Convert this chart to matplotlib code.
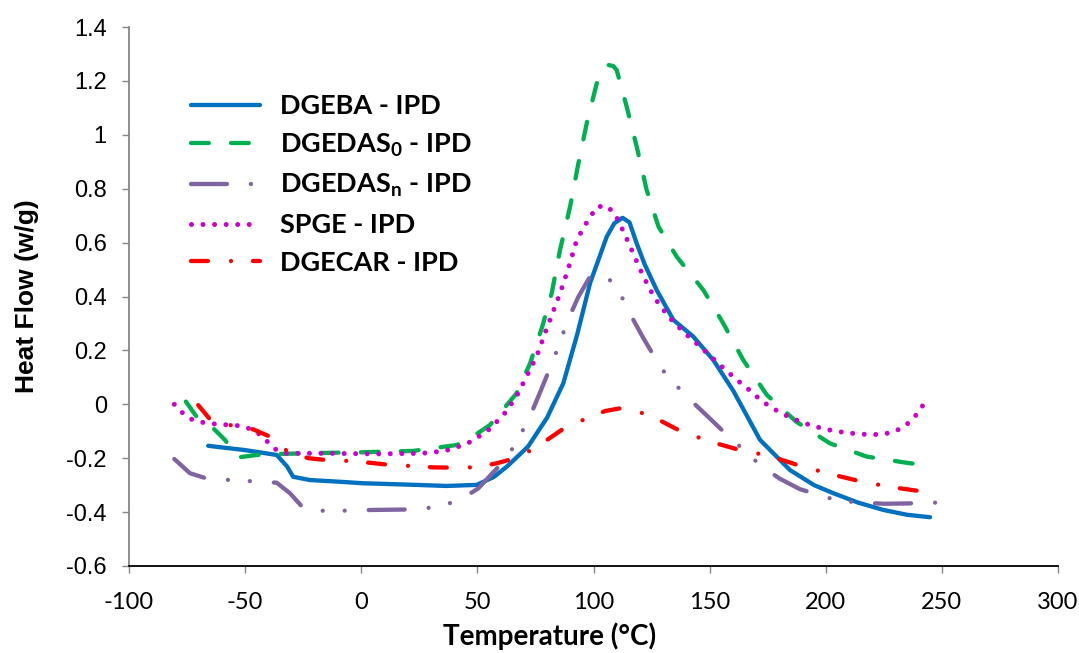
import matplotlib
matplotlib.use("Agg")
import matplotlib.pyplot as plt

# ---------------- data ----------------
dgeba_T = [-65.9, -50, -36.4, -32, -29.3, -22.1, -10, 0.8, 20, 36.8, 49.7, 57, 62.6, 71.8, 80, 87,
           93, 98.5, 105.7, 109, 112.5, 115.5, 118.6, 122, 127.2, 134.4, 143, 151.6, 160.2, 171.7,
           184.6, 195, 203.3, 214, 224.8, 235, 244.9]
dgeba_v = [-0.154, -0.17, -0.188, -0.23, -0.269, -0.281, -0.287, -0.293, -0.298, -0.303, -0.299,
           -0.27, -0.232, -0.157, -0.05, 0.078, 0.26, 0.449, 0.622, 0.672, 0.692, 0.675, 0.597, 0.52,
           0.424, 0.313, 0.251, 0.164, 0.05, -0.132, -0.244, -0.30, -0.33, -0.365, -0.392, -0.41, -0.419]

dgedas0_T = [-75.5, -70.9, -63.7, -58.7, -52.9, -45, -35, -13.5, 0, 22.4, 41.1, 48, 55.4, 61, 66.9,
             72.7, 78, 82, 85.6, 89.9, 93.5, 97.1, 101.4, 104, 106.4, 108.5, 110, 114.3, 118.6,
             122.9, 128, 135.8, 147.3, 155.9, 164.5, 174.6, 187.4, 201.8, 217.6, 234.8, 245]
dgedas0_v = [0.01, -0.046, -0.089, -0.132, -0.197, -0.188, -0.184, -0.18, -0.178, -0.173, -0.151,
             -0.12, -0.077, -0.02, 0.041, 0.152, 0.29, 0.412, 0.573, 0.733, 0.894, 1.043, 1.191,
             1.24, 1.259, 1.255, 1.24, 1.104, 0.956, 0.795, 0.659, 0.548, 0.424, 0.30, 0.164, 0.035,
             -0.065, -0.145, -0.194, -0.217, -0.228]

dgedasn_T = [-80.5, -73.7, -65.9, -55.8, -45.7, -36.4, -30.7, -24.2, -13.5, 5.2, 23.1, 33.2, 42.5,
             50.4, 56, 62.6, 67.6, 72.3, 76.2, 82.7, 86.3, 89.6, 93.5, 98.5, 102.8, 106.8, 112.5,
             116.8, 121.5, 126, 130.8, 137.5, 144.4, 151.6, 157, 163.1, 171.7, 180, 188.9, 205.4,
             215.5, 225.1, 234.8, 250.4]
dgedasn_v = [-0.203, -0.256, -0.277, -0.281, -0.286, -0.291, -0.33, -0.392, -0.396, -0.392, -0.39,
             -0.38, -0.355, -0.312, -0.26, -0.2, -0.128, -0.052, 0.028, 0.164, 0.249, 0.325, 0.399,
             0.474, 0.483, 0.464, 0.393, 0.319, 0.245, 0.18, 0.115, 0.053, -0.006, -0.065, -0.11,
             -0.157, -0.225, -0.275, -0.315, -0.358, -0.365, -0.369, -0.368, -0.364]

spge_T = [-80.5, -76.9, -72.9, -68.3, -63, -53.4, -48.6, -44.3, -40.7, -37.1, -32.8, -13.5, 6.6, 26,
          36, 45.4, 54, 61.2, 66.9, 71, 75.5, 79.8, 85.6, 89.2, 92.8, 96.4, 101.4, 105.7, 109.3,
          113.6, 117.6, 121.5, 126.2, 132.3, 138.7, 145.9, 153.7, 161.4, 168.8, 172.4, 180.7, 189.9,
          199.4, 209, 219.1, 224.1, 228.8, 233.4, 237.1, 240.3, 242.9]
spge_v = [0.0, -0.032, -0.056, -0.067, -0.073, -0.079, -0.089, -0.108, -0.136, -0.166, -0.182,
          -0.182, -0.184, -0.182, -0.173, -0.147, -0.102, -0.04, 0.03, 0.10, 0.177, 0.28, 0.412,
          0.505, 0.61, 0.665, 0.733, 0.736, 0.706, 0.628, 0.55, 0.474, 0.396, 0.325, 0.269, 0.214,
          0.152, 0.093, 0.041, 0.012, -0.033, -0.068, -0.092, -0.106, -0.113, -0.111, -0.104,
          -0.085, -0.058, -0.025, 0.011]

dgecar_T = [-70.2, -65.1, -56.5, -46.5, -39.3, -32.1, -22.8, -14.9, -5.6, 3.8, 12.4, 21.7, 31, 39.6,
            49, 58.3, 66.2, 74.8, 86.3, 98.5, 105, 111.4, 115, 124.6, 136.5, 149.6, 162.3, 176,
            188.9, 202.1, 215.5, 228.8, 241.3, 244.9]
dgecar_v = [-0.003, -0.056, -0.077, -0.093, -0.12, -0.172, -0.2, -0.207, -0.21, -0.217, -0.225,
            -0.229, -0.234, -0.235, -0.234, -0.219, -0.2, -0.163, -0.095, -0.046, -0.025, -0.015,
            -0.017, -0.042, -0.095, -0.137, -0.168, -0.192, -0.228, -0.259, -0.287, -0.308, -0.323,
            -0.327]

series_labels = ["DGEBA - IPD", r"DGEDAS$_\mathbf{0}$ - IPD", r"DGEDAS$_\mathbf{n}$ - IPD",
                 "SPGE - IPD", "DGECAR - IPD"]
x_ticks = [-100, -50, 0, 50, 100, 150, 200, 250, 300]
x_tick_labels = ["-100", "-50", "0", "50", "100", "150", "200", "250", "300"]
y_ticks = [-0.6, -0.4, -0.2, 0, 0.2, 0.4, 0.6, 0.8, 1, 1.2, 1.4]
y_tick_labels = ["-0.6", "-0.4", "-0.2", "0", "0.2", "0.4", "0.6", "0.8", "1", "1.2", "1.4"]

# ---------------- style ----------------
plt.rcParams['lines.scale_dashes'] = False
plt.rcParams['axes.unicode_minus'] = False
plt.rcParams['mathtext.fontset'] = 'custom'
plt.rcParams['mathtext.rm'] = 'Lato:bold'
plt.rcParams['mathtext.bf'] = 'Lato:bold'
plt.rcParams['mathtext.it'] = 'Lato:bold'

fig = plt.figure(figsize=(10.79, 6.53), dpi=100)
ax = fig.add_axes([129/1079, 1-566/653, 929/1079, 539/653])

lw = 3.1
common = dict(linewidth=lw, solid_capstyle='round', dash_capstyle='round', solid_joinstyle='round')
ax.plot(dgeba_T, dgeba_v, color='#0070C0', label=series_labels[0], **common)
ax.plot(dgedas0_T, dgedas0_v, color='#00B050', dashes=(12.8, 16.0), label=series_labels[1], **common)
ax.plot(dgedasn_T, dgedasn_v, color='#8064A2', dashes=(25.9, 17.3, 0.01, 15.8, 0.01, 17.3),
        label=series_labels[2], **common)
c2 = dict(common); c2['linewidth'] = 3.6
ax.plot(spge_T, spge_v, color='#CC00CC', dashes=(0.01, 8.3), label=series_labels[3], **c2)
ax.plot(dgecar_T, dgecar_v, color='#FF0000', dashes=(12.2, 16.6, 0.01, 15.8),
        label=series_labels[4], **common)

ax.set_xlim(-100, 300)
ax.set_ylim(-0.6, 1.4)
ax.set_xticks(x_ticks)
ax.set_xticklabels(x_tick_labels)
ax.set_yticks(y_ticks)
ax.set_yticklabels(y_tick_labels)

for s in ['top', 'right']:
    ax.spines[s].set_visible(False)
ax.spines['left'].set_color('#868686')
ax.spines['left'].set_linewidth(1.3)
ax.spines['bottom'].set_color('black')
ax.spines['bottom'].set_linewidth(1.3)

ax.tick_params(axis='y', direction='out', length=5, width=1.0, color='#868686', pad=11)
ax.tick_params(axis='x', direction='out', length=5, width=1.0, color='#868686', pad=14)
for t in ax.get_yticklabels():
    t.set_fontfamily(['Liberation Sans', 'DejaVu Sans'])
    t.set_fontsize(17)
for t in ax.get_xticklabels():
    t.set_fontfamily(['Lato', 'DejaVu Sans'])
    t.set_fontsize(17)

fig.text(550/1079, 1-636/653, "Temperature (°C)", ha='center', va='center',
         fontsize=20, fontweight='bold', family=['Lato', 'DejaVu Sans'])
fig.text(27/1079, 1-296/653, "Heat Flow (w/g)", ha='center', va='center', rotation=90,
         fontsize=19, fontweight='bold', family=['Liberation Sans', 'DejaVu Sans'])

leg = ax.legend(loc='upper left', bbox_to_anchor=(191/1079, 1-94/653),
                bbox_transform=fig.transFigure, frameon=False, borderpad=0, borderaxespad=0,
                handlelength=2.55, handletextpad=0.75, labelspacing=0.5,
                prop={'family': 'Lato', 'weight': 'bold', 'size': 19.5})

fig.savefig("out.png", dpi=100)
